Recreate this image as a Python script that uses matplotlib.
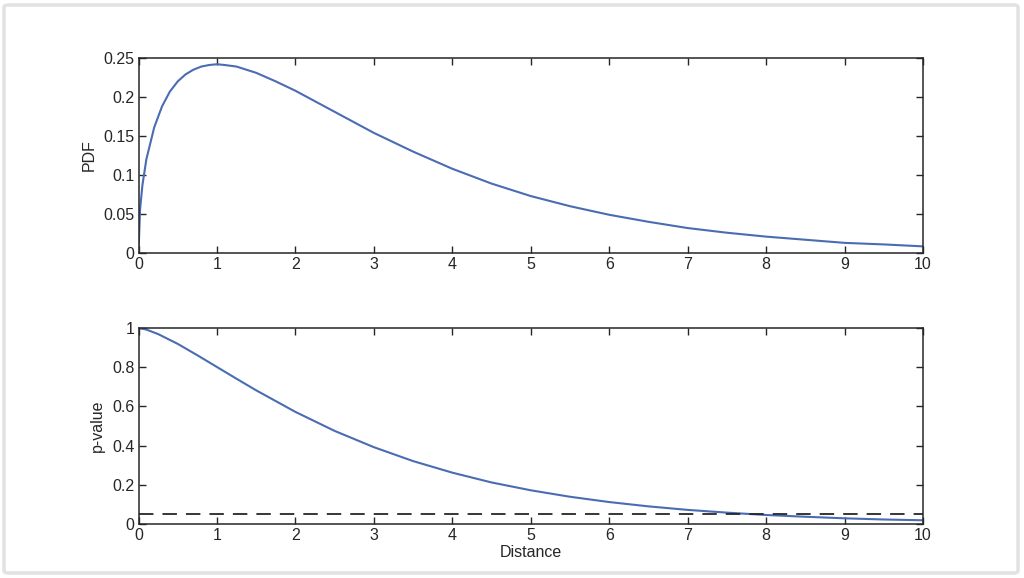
import matplotlib
matplotlib.use("Agg")
from matplotlib import pyplot as plt
from matplotlib.patches import FancyBboxPatch

# values
dist_pdf = [0, 0.02, 0.05, 0.1, 0.2, 0.3, 0.4, 0.5, 0.6, 0.7, 0.8, 0.9, 1.0, 1.1,
            1.25, 1.5, 1.75, 2.0, 2.5, 3.0, 3.5, 4.0, 4.5, 5.0, 5.5, 6.0, 6.5,
            7.0, 7.5, 8.0, 8.5, 9.0, 9.5, 10.0]
pdf = [0, 0.056, 0.087, 0.120, 0.161, 0.188, 0.207, 0.220, 0.229, 0.235, 0.239,
       0.241, 0.242, 0.241, 0.239, 0.231, 0.220, 0.208, 0.181, 0.154, 0.130,
       0.108, 0.089, 0.073, 0.060, 0.049, 0.040, 0.032, 0.026, 0.021, 0.017,
       0.013, 0.011, 0.0085]

dist_p = [0, 0.1, 0.25, 0.5, 0.75, 1.0, 1.25, 1.5, 2.0, 2.5, 3.0, 3.5, 4.0, 4.5,
          5.0, 5.5, 6.0, 6.5, 7.0, 7.5, 8.0, 8.5, 9.0, 9.5, 10.0]
pval = [1.0, 0.992, 0.969, 0.919, 0.861, 0.801, 0.741, 0.682, 0.572, 0.475,
        0.392, 0.321, 0.262, 0.212, 0.172, 0.139, 0.112, 0.090, 0.072, 0.058,
        0.046, 0.037, 0.029, 0.023, 0.019]
alpha = 0.05

xticks = list(range(0, 11))
pdf_ticks = [0, 0.05, 0.1, 0.15, 0.2, 0.25]
pdf_labels = ['0', '0.05', '0.1', '0.15', '0.2', '0.25']
p_ticks = [0, 0.2, 0.4, 0.6, 0.8, 1]
p_labels = ['0', '0.2', '0.4', '0.6', '0.8', '1']

plt.rcParams['font.family'] = ['Liberation Sans', 'DejaVu Sans']
line_col = '#4a6cb3'
ink = '#262626'

fig = plt.figure(figsize=(10.24, 5.78), dpi=100)

# light grey frame around the picture
frame = FancyBboxPatch((4 / 1024, 5 / 578), 1014 / 1024, 568 / 578,
                       boxstyle='round,pad=0,rounding_size=0.004',
                       transform=fig.transFigure, fill=False,
                       edgecolor='#e2e2e2', linewidth=2.5)
fig.patches.append(frame)

W, H = 1024, 578
ax1 = fig.add_axes([138.5 / W, 1 - 253 / H, (923 - 138.5) / W, (253 - 58) / H])
ax2 = fig.add_axes([138.5 / W, 1 - 524 / H, (923 - 138.5) / W, (524 - 328) / H])

ax1.plot(dist_pdf, pdf, color=line_col, lw=1.5)
ax1.set_xlim(0, 10)
ax1.set_ylim(0, 0.25)
ax1.set_yticks(pdf_ticks)
ax1.set_yticklabels(pdf_labels)
ax1.set_ylabel('PDF', fontsize=11.5, labelpad=5, color=ink)

ax2.plot(dist_p, pval, color=line_col, lw=1.5)
ax2.axhline(alpha, color=ink, lw=1.3, dashes=(8, 5))
ax2.set_xlim(0, 10)
ax2.set_ylim(0, 1)
ax2.set_yticks(p_ticks)
ax2.set_yticklabels(p_labels)
ax2.set_ylabel('p-value', fontsize=11.5, labelpad=5, color=ink)
ax2.set_xlabel('Distance', fontsize=11.5, labelpad=1, color=ink)

for ax in (ax1, ax2):
    ax.set_xticks(xticks)
    ax.tick_params(direction='in', top=True, right=True, length=5, width=1,
                   labelsize=11.5, pad=3, color=ink, labelcolor=ink)
    for s in ax.spines.values():
        s.set_linewidth(1.1)
        s.set_color(ink)

fig.savefig('out.png', dpi=100)
